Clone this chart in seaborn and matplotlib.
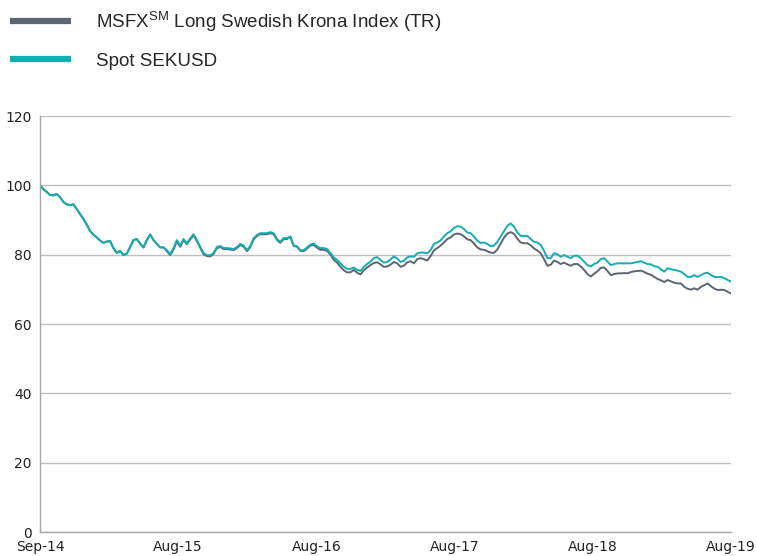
import pandas as pd
import seaborn as sns
import matplotlib.pyplot as plt

# Spot SEKUSD, rebased to 100
spot = [
    100.0, 98.9, 98.1, 97.2, 97.1, 97.5, 96.6, 95.2, 94.5, 94.3,
    94.5, 93.2, 91.7, 90.3, 88.7, 86.8, 85.8, 85.0, 84.1, 83.4,
    83.8, 83.9, 81.9, 80.5, 81.1, 79.9, 80.3, 82.2, 84.2, 84.5,
    83.2, 82.1, 84.2, 85.8, 84.2, 83.1, 82.1, 82.1,
    81.3, 80.2, 81.8, 84.2, 82.6, 84.5, 83.3, 84.7, 85.9, 84.2,
    82.3, 80.4, 79.9, 79.8, 80.5, 82.2, 82.5, 81.9, 81.9, 81.8,
    81.6, 82.2, 83.1, 82.6, 81.3, 82.5, 84.7, 85.7, 86.2, 86.2,
    86.2, 86.5, 86.2, 84.5, 83.7, 84.8, 84.8,
    85.2, 82.6, 82.4, 81.3, 81.3, 82.1, 82.9, 83.2, 82.4, 81.9,
    81.9, 81.6, 80.5, 79.2, 78.5, 77.5, 76.5, 75.9, 75.9, 76.3,
    75.6, 75.3, 76.5, 77.3, 78.0, 79.0, 79.3, 78.5, 77.7, 77.9,
    78.6, 79.5, 78.9, 77.9, 78.2, 79.2, 79.5,
    79.4, 80.4, 80.6, 80.6, 80.4, 81.3, 83.1, 83.5, 84.1, 85.2,
    86.2, 86.7, 87.7, 88.2, 88.1, 87.4, 86.4, 86.2, 85.2, 84.0,
    83.4, 83.5, 83.1, 82.5, 82.6, 83.7, 85.2, 86.8, 88.3, 89.0,
    88.1, 86.4, 85.4, 85.4, 85.4, 84.5, 83.7,
    83.5, 82.8, 81.1, 79.0, 79.0, 80.4, 80.1, 79.4, 79.9, 79.4,
    79.0, 79.7, 79.7, 79.0, 78.0, 77.0, 76.6, 77.3, 77.7, 78.7,
    79.0, 78.0, 77.0, 77.3, 77.5, 77.5, 77.5, 77.5, 77.5, 77.7,
    77.9, 78.1, 77.7, 77.3, 77.2, 76.7, 76.5,
    75.8, 75.1, 76.1, 75.8, 75.6, 75.4, 75.1, 74.4, 73.6, 73.6,
    74.1, 73.6, 74.1, 74.6, 74.8, 74.1, 73.6, 73.5, 73.6, 73.2,
    72.7, 72.2,
]

# MSFX Long Swedish Krona Index (TR)
msfx = [
    100.0, 98.9, 98.1, 97.2, 97.1, 97.5, 96.6, 95.2, 94.5, 94.3,
    94.5, 93.2, 91.7, 90.3, 88.7, 86.8, 85.8, 85.0, 84.1, 83.4,
    83.8, 83.9, 81.9, 80.5, 81.1, 79.9, 80.3, 82.2, 84.2, 84.5,
    83.2, 82.1, 84.2, 85.8, 84.2, 83.1, 82.1, 82.1,
    81.0, 79.9, 81.5, 83.9, 82.3, 84.2, 83.0, 84.4, 85.6, 83.9,
    82.0, 80.1, 79.6, 79.5, 80.2, 81.9, 82.2, 81.6, 81.6, 81.5,
    81.3, 81.9, 82.8, 82.3, 81.0, 82.2, 84.4, 85.4, 85.9, 85.9,
    85.9, 86.2, 85.9, 84.2, 83.4, 84.5, 84.5,
    85.2, 82.5, 82.3, 81.1, 81.0, 81.8, 82.6, 82.8, 82.0, 81.4,
    81.4, 81.1, 80.0, 78.5, 77.7, 76.5, 75.5, 74.9, 74.9, 75.6,
    74.8, 74.3, 75.5, 76.3, 77.0, 77.6, 77.8, 77.2, 76.5, 76.6,
    77.1, 77.9, 77.5, 76.5, 76.8, 77.8, 78.1,
    77.5, 78.7, 79.0, 78.7, 78.3, 79.6, 81.2, 81.9, 82.6, 83.5,
    84.5, 85.0, 85.8, 86.1, 85.9, 85.3, 84.4, 84.2, 83.2, 82.1,
    81.5, 81.4, 81.0, 80.6, 80.5, 81.5, 83.2, 84.9, 86.1, 86.5,
    86.0, 84.6, 83.5, 83.3, 83.3, 82.7, 81.8,
    81.2, 80.4, 78.7, 76.8, 77.1, 78.3, 77.9, 77.3, 77.7, 77.2,
    76.8, 77.3, 77.3, 76.6, 75.6, 74.4, 73.7, 74.5, 75.2, 76.2,
    76.3, 75.3, 74.1, 74.4, 74.6, 74.6, 74.7, 74.6, 75.0, 75.2,
    75.3, 75.4, 75.0, 74.5, 74.2, 73.6, 73.0,
    72.6, 72.1, 72.7, 72.3, 71.9, 71.7, 71.7, 70.7, 70.2, 69.9,
    70.3, 69.9, 70.7, 71.2, 71.7, 70.9, 70.2, 69.8, 69.9, 69.8,
    69.3, 68.8,
]

labels = ["MSFX$^{\\mathrm{SM}}$ Long Swedish Krona Index (TR)", "Spot SEKUSD"]
tick_labels = ["Sep-14", "Aug-15", "Aug-16", "Aug-17", "Aug-18", "Aug-19"]
colors = ["#5B6670", "#14ADB1"]

dates = pd.date_range("2014-09-01", "2019-08-30", periods=len(spot))
df = pd.concat([
    pd.DataFrame({"date": dates, "value": msfx, "series": labels[0]}),
    pd.DataFrame({"date": dates, "value": spot, "series": labels[1]}),
])

sns.set_style("white")
plt.rcParams["mathtext.fontset"] = "custom"
plt.rcParams["mathtext.rm"] = "Liberation Sans"

fig = plt.figure(figsize=(7.57, 5.56), dpi=100)
ax = fig.add_axes([40 / 757, 1 - 532 / 556, 691 / 757, 416 / 556])

sns.lineplot(data=df, x="date", y="value", hue="series",
             palette=dict(zip(labels, colors)), linewidth=1.4, ax=ax)

ax.set_ylim(0, 120)
ax.set_yticks(range(0, 121, 20))
ax.set_xlim(dates[0], dates[-1])
ax.set_xticks(pd.date_range(dates[0], dates[-1], periods=len(tick_labels)))
ax.set_xticklabels(tick_labels)
ax.set_xlabel("")
ax.set_ylabel("")
ax.yaxis.grid(True, color="#BFBFBF", linewidth=1)
ax.set_axisbelow(True)
for s in ["top", "right"]:
    ax.spines[s].set_visible(False)
for s in ["left", "bottom"]:
    ax.spines[s].set_color("#A6A6A6")
    ax.spines[s].set_linewidth(1)
ax.tick_params(axis="both", direction="out", length=4, width=1, color="#A6A6A6",
               labelsize=10, labelcolor="#222222", pad=2)
for t in ax.get_xticklabels() + ax.get_yticklabels():
    t.set_family("DejaVu Sans")

handles, _ = ax.get_legend_handles_labels()
for h in handles:
    h.set_linewidth(4.5)
    h.set_solid_capstyle("butt")
ax.legend(handles, labels, loc="upper left", bbox_to_anchor=(10 / 757, 1 - 9 / 556),
          bbox_transform=fig.transFigure, frameon=False, borderpad=0, borderaxespad=0,
          handlelength=3.25, handletextpad=1.33, labelspacing=1.02,
          prop={"family": "Liberation Sans", "size": 13.5})

fig.savefig("out.png", dpi=100)
